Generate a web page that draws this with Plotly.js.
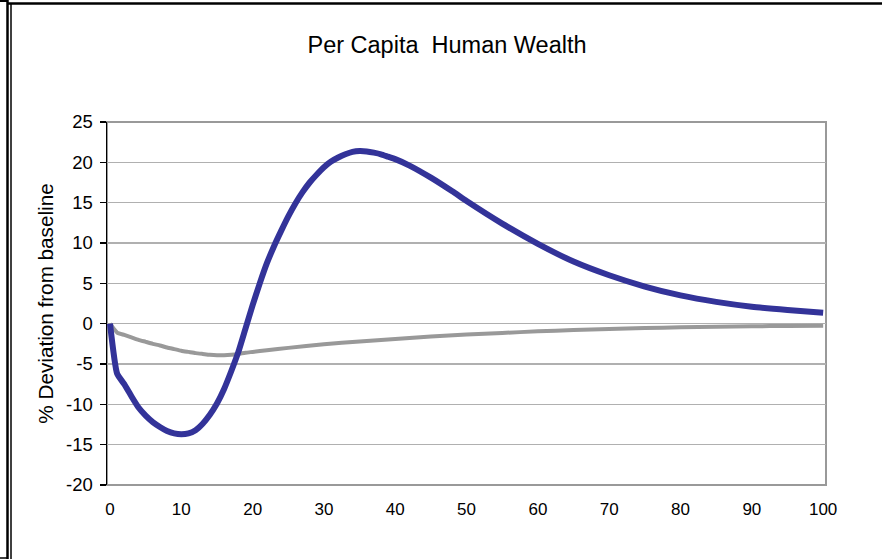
<!DOCTYPE html>
<html>
<head>
<meta charset="utf-8">
<script src="https://cdn.plot.ly/plotly-3.0.1.min.js"></script>
<style>html,body{margin:0;padding:0;background:#fff;}#chart{width:882px;height:559px;}</style>
</head>
<body>
<div id="chart"></div>
<script>
// Years after shock
const yearsBlue = [0,1,2,3,4,5,6,7,8,9,10,11,12,13,14,15,16,17,18,19,20,21,22,23,24,25,26,27,28,29,30,31,32,33,34,35,36,37,38,39,40,42,45,48,50,55,60,65,70,75,80,85,90,95,100];
const valuesBlue = [0,-6.2,-7.5,-9.0,-10.4,-11.4,-12.2,-12.8,-13.3,-13.6,-13.7,-13.6,-13.2,-12.4,-11.3,-9.9,-8.1,-5.9,-3.5,-0.6,2.3,5.0,7.5,9.6,11.5,13.3,14.9,16.3,17.5,18.5,19.4,20.1,20.6,21.0,21.3,21.4,21.35,21.2,21.0,20.7,20.4,19.6,18.1,16.4,15.2,12.4,9.9,7.7,6.0,4.6,3.5,2.7,2.1,1.7,1.35];
const yearsGray = [0,1,2,3,4,5,6,7,8,9,10,11,12,13,14,15,16,17,18,19,20,22,25,30,35,40,45,50,55,60,65,70,75,80,85,90,95,100];
const valuesGray = [0,-1.1,-1.4,-1.7,-2.0,-2.25,-2.5,-2.7,-2.95,-3.15,-3.35,-3.5,-3.65,-3.75,-3.85,-3.9,-3.9,-3.85,-3.75,-3.6,-3.5,-3.3,-3.0,-2.55,-2.2,-1.9,-1.6,-1.35,-1.15,-0.95,-0.8,-0.65,-0.55,-0.45,-0.38,-0.32,-0.28,-0.25];
const titleText = "Per Capita  Human Wealth";
const yTitleText = "% Deviation from baseline";
const xTicks = [0,10,20,30,40,50,60,70,80,90,100];
const yTicks = [-20,-15,-10,-5,0,5,10,15,20,25];

// layout geometry (pixels)
const W = 882, H = 559, L = 107, R = 826, T = 122, B = 485;
const px = x => (x - L) / (R - L);
const py = y => (B - y) / (B - T);

const traces = [
  {x: yearsGray, y: valuesGray, mode: 'lines', line: {color: '#999999', width: 4, shape: 'spline', smoothing: 0.5}, hoverinfo: 'skip'},
  {x: yearsBlue, y: valuesBlue, mode: 'lines', line: {color: '#333399', width: 6, shape: 'spline', smoothing: 0.5}, hoverinfo: 'skip'}
];

const layout = {
  width: W, height: H,
  margin: {l: L, r: W - R, t: T, b: H - B, pad: 0},
  paper_bgcolor: '#ffffff', plot_bgcolor: '#ffffff',
  showlegend: false,
  font: {family: 'Liberation Sans, Arial, sans-serif', color: '#000000', size: 15},
  title: {text: titleText, font: {size: 23.5, color: '#000'}, xref: 'paper', x: px(447), xanchor: 'center', yref: 'container', y: 1 - 45 / H, yanchor: 'middle'},
  xaxis: {
    range: [-0.42, 100.4], tickvals: xTicks, ticktext: xTicks.map(String),
    showgrid: false, zeroline: false, showline: false, ticks: '',
    ticklabelstandoff: 12, tickfont: {size: 17}
  },
  yaxis: {
    range: [-20, 25], tickvals: yTicks, ticktext: yTicks.map(String),
    showgrid: true, gridcolor: '#b0b0b0', gridwidth: 1.5, zeroline: false,
    showline: true, linecolor: '#000000', linewidth: 1.5,
    ticks: 'outside', ticklen: 6, tickcolor: '#000', tickwidth: 1.5,
    tickfont: {size: 18.5}, ticklabelstandoff: 3,
    title: {text: yTitleText, font: {size: 20.7}, standoff: 7}
  },
  shapes: [
    // plot area border (gray)
    {type: 'rect', xref: 'paper', yref: 'paper', x0: 0, x1: 1, y0: 0, y1: 1, line: {color: '#999999', width: 2}, layer: 'below'},
    // outer frame
    {type: 'line', xref: 'paper', yref: 'paper', x0: px(7), x1: px(883), y0: py(3.5), y1: py(3.5), line: {color: '#000', width: 2.5}},
    {type: 'line', xref: 'paper', yref: 'paper', x0: px(7.5), x1: px(7.5), y0: py(0), y1: py(560), line: {color: '#000', width: 2.5}},
    {type: 'line', xref: 'paper', yref: 'paper', x0: px(11), x1: px(11), y0: py(3.5), y1: py(560), line: {color: '#000', width: 1.5}},
    {type: 'line', xref: 'paper', yref: 'paper', x0: px(0), x1: px(7.5), y0: py(1), y1: py(1), line: {color: '#000', width: 2}},
    {type: 'line', xref: 'paper', yref: 'paper', x0: px(0), x1: px(7.5), y0: py(558), y1: py(558), line: {color: '#000', width: 1.5}}
  ]
};

Plotly.newPlot('chart', traces, layout, {displayModeBar: false, staticPlot: true});
</script>
</body>
</html>
